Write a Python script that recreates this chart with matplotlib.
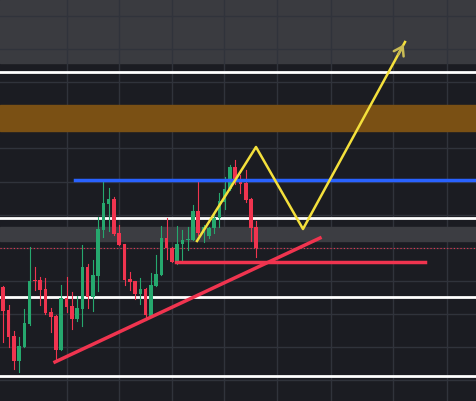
import matplotlib.pyplot as plt
from matplotlib.patches import FancyArrowPatch

# candle data (price axis in screen units, smaller = higher)
opens = [287, 310, 336, 361, 347, 324, 280, 280, 289, 312, 316, 350, 298, 306, 319, 309, 267, 297, 276,
         230, 204, 199, 233, 244, 279, 281, 294, 289, 316, 286, 275, 238, 248, 262, 244, 240, 240, 211, 233,
         236, 228, 218, 202, 189, 167, 181, 183, 199, 227]
closes = [311, 337, 361, 346, 323, 281, 281, 290, 313, 317, 350, 298, 307, 319, 308, 267, 297, 275, 229,
          203, 199, 234, 245, 280, 282, 294, 289, 315, 285, 274, 238, 248, 262, 244, 240, 239, 211, 233, 227,
          228, 218, 201, 189, 167, 182, 184, 200, 228, 248]
highs = [286, 305, 331, 337, 309, 247, 267, 277, 278, 308, 315, 285, 277, 292, 296, 245, 264, 260, 217,
         180, 188, 197, 225, 244, 272, 281, 278, 288, 273, 255, 226, 218, 247, 226, 230, 227, 205, 182, 225,
         227, 213, 193, 177, 165, 160, 175, 170, 198, 221]
lows = [342, 347, 369, 372, 347, 325, 290, 305, 314, 332, 360, 350, 312, 329, 321, 326, 308, 311, 291,
        237, 231, 235, 245, 285, 290, 299, 304, 320, 317, 286, 275, 259, 262, 264, 262, 250, 240, 235, 242,
        238, 233, 227, 209, 190, 184, 193, 202, 241, 257]

levels = [72, 218, 297, 376]
zigzag_x = [197, 256, 303, 405]
zigzag_y = [241, 147, 229, 42]

BG = '#1b1c22'
GRID = '#30333b'
UP = '#26a86e'
DOWN = '#f0344f'

fig = plt.figure(figsize=(4.76, 4.01), dpi=100, facecolor=BG)
ax = fig.add_axes([0, 0, 1, 1])
ax.set_facecolor(BG)
ax.set_xlim(0, 476)
ax.set_ylim(401, 0)
ax.axis('off')

# top lighter area
ax.axhspan(0, 63, color='#3a3b40', zorder=0)
for gx in [67, 119, 172, 224, 277, 331, 393, 447]:
    ax.axvline(gx, color=GRID, lw=1, zorder=1)
for gy in [16, 49, 82, 115, 148, 182, 215, 248, 281, 314, 347, 380]:
    ax.axhline(gy, color=GRID, lw=1, zorder=1)

ax.axhspan(105, 131, color='#7a5014', zorder=2)
ax.axhspan(227, 241, color='#3c3d42', zorder=2)
ax.axhline(248, color=DOWN, lw=0.8, ls=(0, (1, 2)), zorder=2)
for lv in levels:
    ax.axhline(lv, color='white', lw=2, zorder=3)

for i, (o, c, h, l) in enumerate(zip(opens, closes, highs, lows)):
    x = 3.3 + 5.27 * i
    col = UP if c < o else DOWN
    ax.plot([x, x], [h, l], color=col, lw=0.8, zorder=4)
    ax.bar(x, abs(c - o) or 1, bottom=min(o, c), width=3.6, color=col, zorder=4)

ax.plot([75, 476], [180, 180], color='#2962ff', lw=2.5, zorder=5)
ax.plot([176, 425], [262, 262], color=DOWN, lw=2.5, zorder=5)
ax.plot([55, 320], [362, 238], color=DOWN, lw=2.5, zorder=5)
ax.plot(zigzag_x, zigzag_y, color='#f4e03c', lw=1.8, zorder=6)
ax.add_patch(FancyArrowPatch((zigzag_x[-1] - 8, zigzag_y[-1] + 15), (zigzag_x[-1], zigzag_y[-1]),
                             arrowstyle='->,head_length=6,head_width=4', color='#c9bb55',
                             lw=1.8, zorder=7))

fig.savefig('out.png', dpi=100, facecolor=BG)
